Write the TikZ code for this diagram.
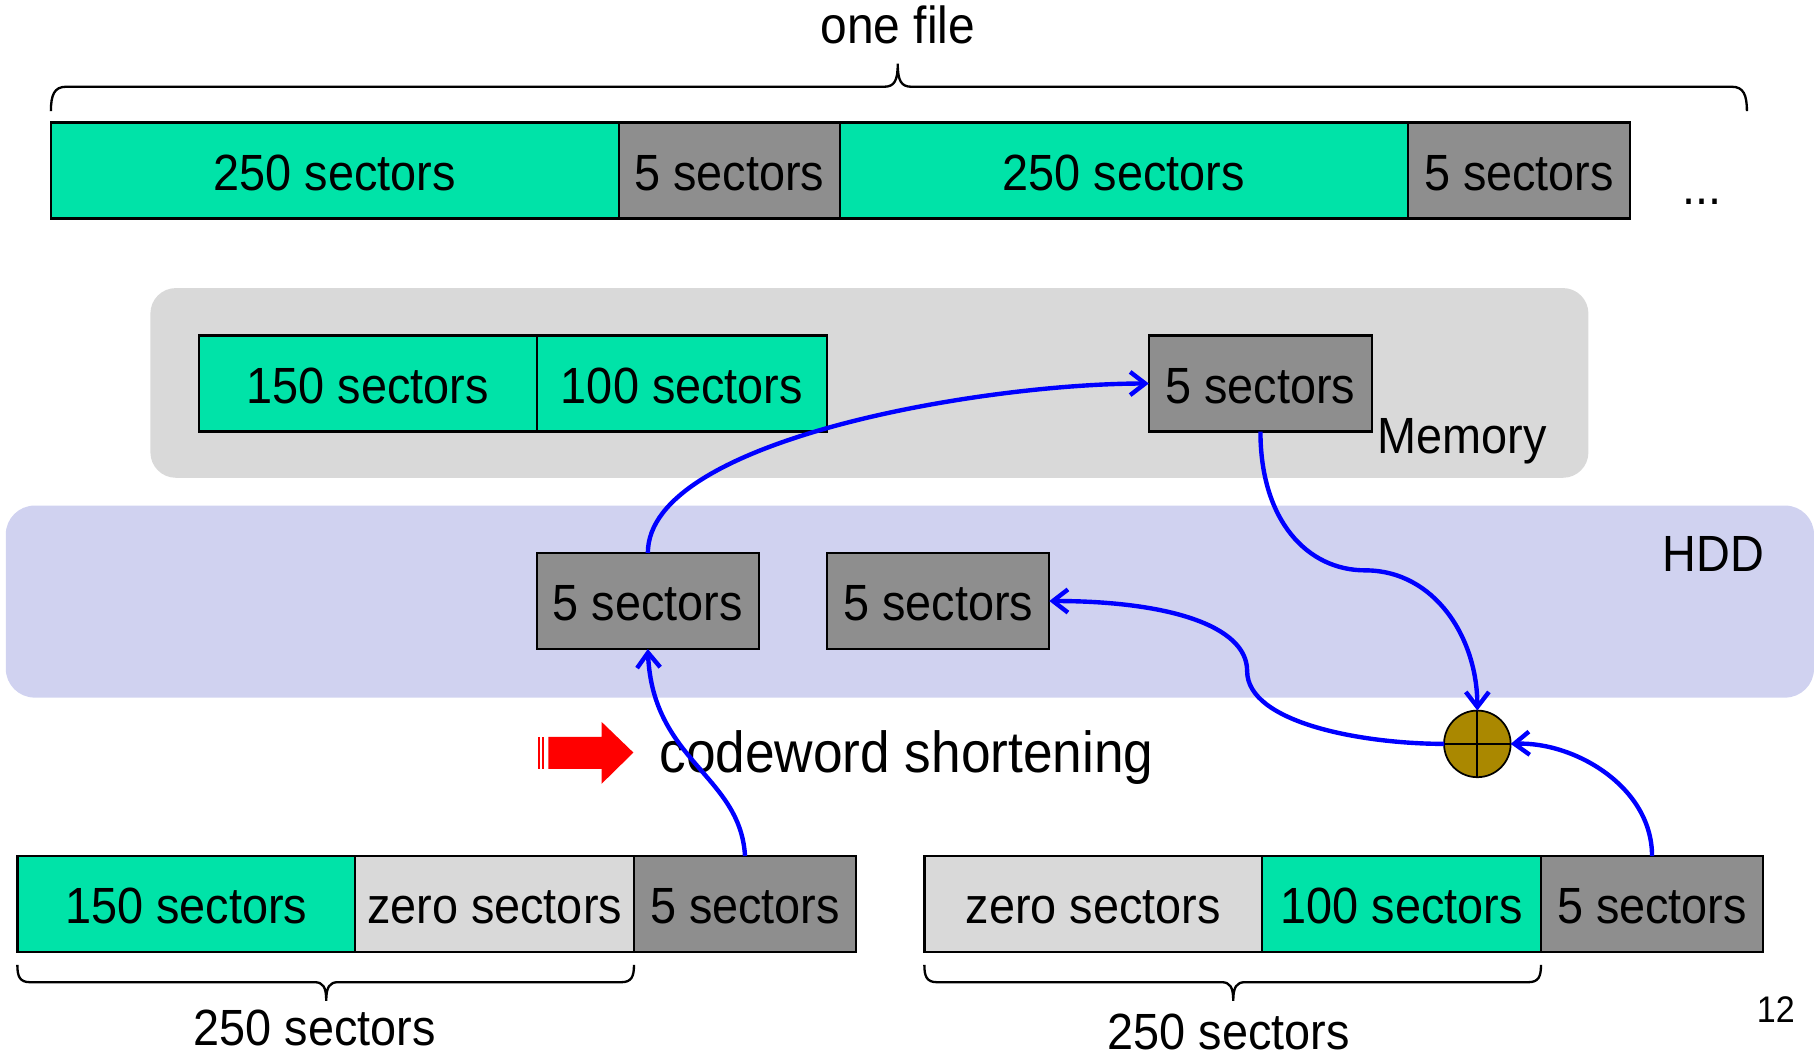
\documentclass[tikz,border=0pt]{standalone}
\usepackage{fontspec}
\setmainfont{Liberation Sans}[FakeStretch=0.92]
\usetikzlibrary{arrows.meta}

\definecolor{sectgreen}{RGB}{0,227,168}
\definecolor{paritygray}{RGB}{142,142,142}
\definecolor{zerogray}{RGB}{217,217,217}
\definecolor{memgray}{RGB}{217,217,217}
\definecolor{hddblue}{RGB}{208,210,240}
\definecolor{xorgold}{RGB}{170,136,0}

\tikzset{
  sect/.style={draw=black, line width=2pt, inner sep=0pt, outer sep=0pt,
    anchor=north west, minimum height=83pt, text height=34pt, text depth=0pt,
    font=\fontsize{44}{50}\selectfont},
  datablk/.style={sect, fill=sectgreen},
  parityblk/.style={sect, fill=paritygray},
  zeroblk/.style={sect, fill=zerogray},
  flow/.style={draw=blue, line width=3.8pt, -{Straight Barb[length=13pt,width=20pt]}},
  bracepath/.style={draw=black, line width=2pt},
  lbl/.style={inner sep=0pt, outer sep=0pt, font=\fontsize{44}{50}\selectfont},
}

\begin{document}
\begin{tikzpicture}[x=1pt, y=-1pt]
\useasboundingbox (0,0) rectangle (1568,917);

% storage areas
\fill[memgray, rounded corners=22pt] (130,249) rectangle (1373,413);
\fill[hddblue, rounded corners=25pt] (5,437) rectangle (1568,603);

% one file: data and parity runs
\node[datablk,   minimum width=491pt] (f1) at (44,106)   {250 sectors};
\node[parityblk, minimum width=191pt] (f2) at (535,106)  {5 sectors};
\node[datablk,   minimum width=491pt] (f3) at (726,106)  {250 sectors};
\node[parityblk, minimum width=192pt] (f4) at (1217,106) {5 sectors};
\node[lbl, anchor=base] (more) at (1471,177) {...};

% brace over the file
\path[bracepath] (44,96) .. controls (44,82) and (47,75) .. (57,75) -- (764,75)
  .. controls (773,75) and (776,70) .. (776,55)
  .. controls (776,70) and (779,75) .. (788,75) -- (1497,75)
  .. controls (1507,75) and (1510,82) .. (1510,96);
\node[lbl, font=\fontsize{45}{50}\selectfont, anchor=base] (onefile) at (776,38) {one file};

% memory
\node[datablk,   minimum width=292pt] (m1) at (172,290) {150 sectors};
\node[datablk,   minimum width=251pt] (m2) at (464,290) {100 sectors};
\node[parityblk, minimum width=193pt] (m5) at (993,290) {5 sectors};
\node[lbl, anchor=base] (memlbl) at (1264,392) {Memory};

% hard disk
\node[parityblk, minimum width=192pt] (h5a) at (464,478) {5 sectors};
\node[parityblk, minimum width=192pt] (h5b) at (715,478) {5 sectors};
\node[lbl, anchor=base] (hddlbl) at (1481,494) {HDD};

% shortened codewords
\node[datablk,   minimum width=292pt] (b1) at (15,740)  {150 sectors};
\node[zeroblk,   minimum width=241pt] (b2) at (307,740) {zero sectors};
\node[parityblk, minimum width=192pt] (b3) at (548,740) {5 sectors};

\node[zeroblk,   minimum width=292pt] (c1) at (799,740)  {zero sectors};
\node[datablk,   minimum width=241pt] (c2) at (1091,740) {100 sectors};
\node[parityblk, minimum width=192pt] (c3) at (1332,740) {5 sectors};

% braces under the codewords
\path[bracepath] (15,834) .. controls (15,844) and (17,849) .. (26,849) -- (272,849)
  .. controls (279,849) and (282,853) .. (282,865)
  .. controls (282,853) and (285,849) .. (292,849) -- (537,849)
  .. controls (546,849) and (548,844) .. (548,834);
\path[bracepath] (799,834) .. controls (799,844) and (801,849) .. (810,849) -- (1056,849)
  .. controls (1063,849) and (1066,853) .. (1066,865)
  .. controls (1066,853) and (1069,849) .. (1076,849) -- (1321,849)
  .. controls (1330,849) and (1332,844) .. (1332,834);
\node[lbl, anchor=base] (lenL) at (272,904) {250 sectors};
\node[lbl, anchor=base] (lenR) at (1062,907) {250 sectors};

% red block arrow and caption
\fill[red] (474,637) -- (520,637) -- (520,624) -- (547.5,650.5) -- (520,677.5)
  -- (520,664.5) -- (474,664.5) -- cycle;
\fill[red] (465.3,637) rectangle (467,664.5);
\fill[red] (468.8,637) rectangle (470.5,664.5);
\node[lbl, font=\fontsize{50}{56}\selectfont, anchor=base west] (shorten) at (570,668) {codeword shortening};

% XOR
\node[circle, draw=black, line width=1.5pt, fill=xorgold, minimum size=57.6pt,
  inner sep=0pt, outer sep=0pt] (xor) at (1277,643) {};
\draw[line width=1.5pt] (xor.north) -- (xor.south) (xor.west) -- (xor.east);

% data flow
\coordinate (bendA) at (1180,493);
\coordinate (bendB) at (1078,580);
\draw[flow] (b3.north) .. controls +(-4,-70) and +(4,97) .. (h5a.south);
\draw[flow] (h5a.north) .. controls +(0,-98) and +(-143,0) .. (m5.west);
\draw[flow] (m5.south) .. controls +(0,77) and +(-50,0) .. (bendA)
  .. controls +(60,0) and +(0,-63) .. (xor.north);
\draw[flow] (xor.west) .. controls +(-70,0) and +(0,45) .. (bendB)
  .. controls +(0,-40) and +(100,0) .. (h5b.east);
\draw[flow] (c3.north) .. controls +(0,-60) and +(55,-2) .. (xor.east);

% page number
\node[lbl, font=\fontsize{32}{36}\selectfont, anchor=base] (pagenum) at (1535,884) {12};
\end{tikzpicture}
\end{document}
